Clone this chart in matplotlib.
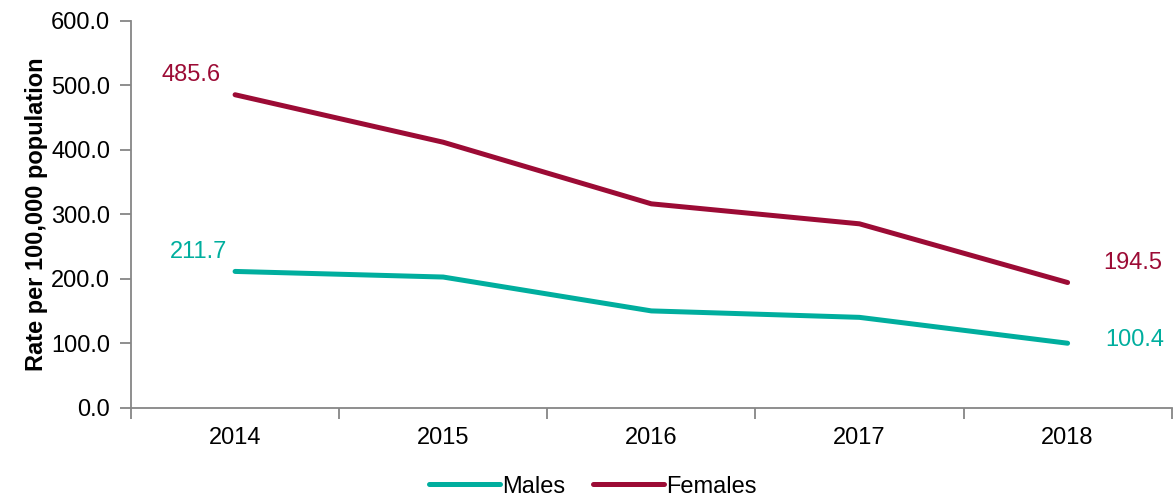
import matplotlib.pyplot as plt
import numpy as np

plt.rcParams['font.family'] = ['Liberation Sans', 'DejaVu Sans']

years = ["2014", "2015", "2016", "2017", "2018"]
males = [211.7, 203.0, 150.5, 140.5, 100.4]
females = [485.6, 412.0, 316.5, 285.5, 194.5]

teal = "#00ae9e"
maroon = "#9c0b35"
grey = "#868686"
fs = 17

fig = plt.figure(figsize=(11.74, 4.99), dpi=100)
ax = fig.add_axes([0.1116, 0.1824, 0.8864, 0.7756])

x = np.arange(len(years))
ax.plot(x, males, color=teal, lw=3.6, solid_capstyle="round", label="Males")
ax.plot(x, females, color=maroon, lw=3.6, solid_capstyle="round", label="Females")

# end point labels
ax.annotate(f"{females[0]:.1f}", (x[0], females[0]), xytext=(-32, 14),
            textcoords="offset points", color=maroon, fontsize=fs, ha="center", va="center")
ax.annotate(f"{males[0]:.1f}", (x[0], males[0]), xytext=(-26, 14),
            textcoords="offset points", color=teal, fontsize=fs, ha="center", va="center")
ax.annotate(f"{females[-1]:.1f}", (x[-1], females[-1]), xytext=(47, 14),
            textcoords="offset points", color=maroon, fontsize=fs, ha="center", va="center")
ax.annotate(f"{males[-1]:.1f}", (x[-1], males[-1]), xytext=(48, 2),
            textcoords="offset points", color=teal, fontsize=fs, ha="center", va="center")

ax.set_xlim(-0.5, len(years) - 0.5)
ax.set_ylim(0, 600)
ax.set_yticks(np.arange(0, 601, 100))
ax.set_yticklabels([f"{v:.1f}" for v in np.arange(0, 601, 100)], fontsize=fs)
ax.set_xticks(x)
ax.set_xticklabels(years, fontsize=fs)
ax.tick_params(axis="x", length=0, pad=14)
ax.set_xticks(np.arange(-0.5, len(years)), minor=True)
ax.tick_params(axis="x", which="minor", length=8, color=grey, width=1.3)
ax.tick_params(axis="y", length=8, color=grey, width=1.3, pad=7)

for s in ["top", "right"]:
    ax.spines[s].set_visible(False)
for s in ["left", "bottom"]:
    ax.spines[s].set_color(grey)
    ax.spines[s].set_linewidth(1.3)

ax.set_ylabel("Rate per 100,000 population", fontsize=17, fontweight="bold", labelpad=2)

fig.legend(loc="lower center", bbox_to_anchor=(0.505, -0.04), ncol=2, frameon=False,
           fontsize=fs, handlelength=3.0, handletextpad=0.1, columnspacing=1.2)

fig.savefig("out.png", dpi=100)
